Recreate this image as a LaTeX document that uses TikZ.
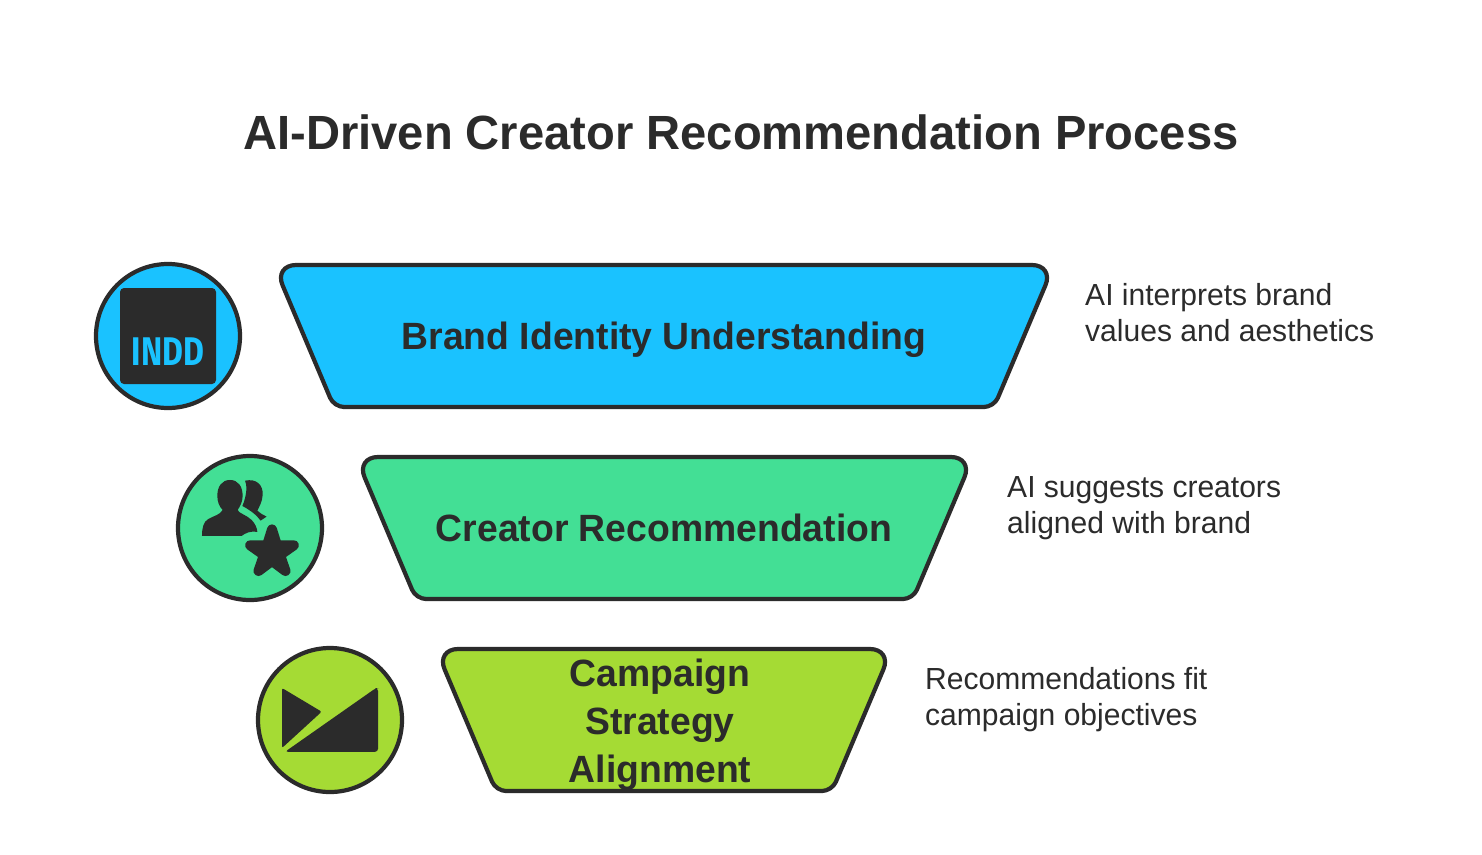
\documentclass[tikz,border=0pt]{standalone}
\usepackage{fontspec}
\setmainfont{Liberation Sans}
\newfontfamily\headfont[FakeStretch=0.982,BoldFont={Liberation Sans Bold}]{Liberation Sans Bold}
\newfontfamily\notefont[FakeStretch=0.985]{Liberation Sans}
\newfontfamily\icofont{Fira Sans Bold}
\definecolor{ink}{HTML}{2B2B2B}
\definecolor{cblue}{HTML}{1AC2FF}
\definecolor{cgreen}{HTML}{43DF95}
\definecolor{clime}{HTML}{A5DB34}
\tikzset{
  funnel/.style={draw=ink,line width=4.2pt},
  badge/.style={draw=ink,line width=4.2pt},
  glyph/.style={fill=ink,draw=none},
  softglyph/.style={fill=ink,draw=ink,line join=round,line width=10pt},
  heading/.style={font=\headfont\fontsize{48}{56}\selectfont,text=ink,inner sep=0pt},
  stagelabel/.style={font=\headfont\fontsize{38}{48}\selectfont,text=ink,inner sep=0pt,align=center},
  note/.style={font=\notefont\fontsize{30.5}{36}\selectfont,text=ink,inner sep=0pt,align=left,anchor=west}
}
\begin{document}
\begin{tikzpicture}[x=1pt,y=-1pt]
\useasboundingbox (0,0) rectangle (1482,854);
\node[heading] (title) at (741,132) {AI-Driven Creator Recommendation Process};

% funnels
\draw[funnel,fill=cblue] (664,265) [rounded corners=22pt] -- (1054,265) [rounded corners=10pt] -- (994,407) -- (334,407) [rounded corners=22pt] -- (274,265) -- cycle;
\draw[funnel,fill=cgreen] (664,457) [rounded corners=22pt] -- (973,457) [rounded corners=10pt] -- (913,599) -- (416,599) [rounded corners=22pt] -- (356,457) -- cycle;
\draw[funnel,fill=clime] (664,649) [rounded corners=22pt] -- (892,649) [rounded corners=10pt] -- (832,791) -- (496,791) [rounded corners=22pt] -- (436,649) -- cycle;

\node[stagelabel,anchor=base] (s1) at (664,349.5) {Brand Identity Understanding};
\node[stagelabel,anchor=base] (s2) at (664,541.5) {Creator Recommendation};
\node[stagelabel] (s3) at (660,724.5) {Campaign\\Strategy\\Alignment};

\node[note] (n1) at (1085,313) {AI interprets brand\\values and aesthetics};
\node[note] (n2) at (1007,508) {AI suggests creators\\aligned with brand};
\node[note] (n3) at (925,700) {Recommendations fit\\campaign objectives};

% badges
\draw[badge,fill=cblue] (168,336) circle (72);
\draw[badge,fill=cgreen] (250,528) circle (72);
\draw[badge,fill=clime] (330,720) circle (72);

% INDD icon
\fill[glyph,rounded corners=4pt] (120,288) rectangle (216,384);
\node[inner sep=0pt,text=cblue,font=\icofont\fontsize{40}{40}\selectfont,xscale=0.8] (indd) at (168,352) {INDD};

% people + star icon
\begin{scope}[shift={(80,250)},x=0.3333pt,y=-0.3333pt]
\fill[glyph] (495,692) .. controls (530,685) and (550,705) .. (548,735)
  .. controls (547,755) and (538,770) .. (532,782) .. controls (540,790) and (550,795) .. (560,800)
  -- (542,812) .. controls (530,795) and (510,780) .. (487,768)
  .. controls (495,750) and (505,715) .. (495,692) -- cycle;
\fill[glyph] (450,690) .. controls (475,690) and (488,710) .. (488,738)
  .. controls (488,755) and (480,770) .. (473,780)
  .. controls (476,790) and (500,795) .. (515,810)
  .. controls (525,820) and (532,835) .. (532,846)
  .. controls (510,842) and (495,850) .. (485,858)
  -- (366,858) .. controls (366,835) and (370,815) .. (385,807)
  .. controls (400,798) and (420,795) .. (428,780)
  .. controls (418,770) and (412,755) .. (412,738)
  .. controls (412,710) and (425,690) .. (450,690) -- cycle;
\end{scope}
\begin{scope}[shift={(272,552.4)}]
\fill[softglyph] (-90:23) -- (-54:8.5) -- (-18:23) -- (18:8.5) -- (54:23) -- (90:8.5) -- (126:23) -- (162:8.5) -- (198:23) -- (234:8.5) -- cycle;
\end{scope}

% envelope icon
\fill[glyph,rounded corners=2pt] (282,688) -- (321.7,711.7) -- (282,748) -- cycle;
\fill[glyph,rounded corners=3pt] (285,751.8) -- (376,688) -- (378,688) -- (378,751.8) -- cycle;
\end{tikzpicture}
\end{document}
